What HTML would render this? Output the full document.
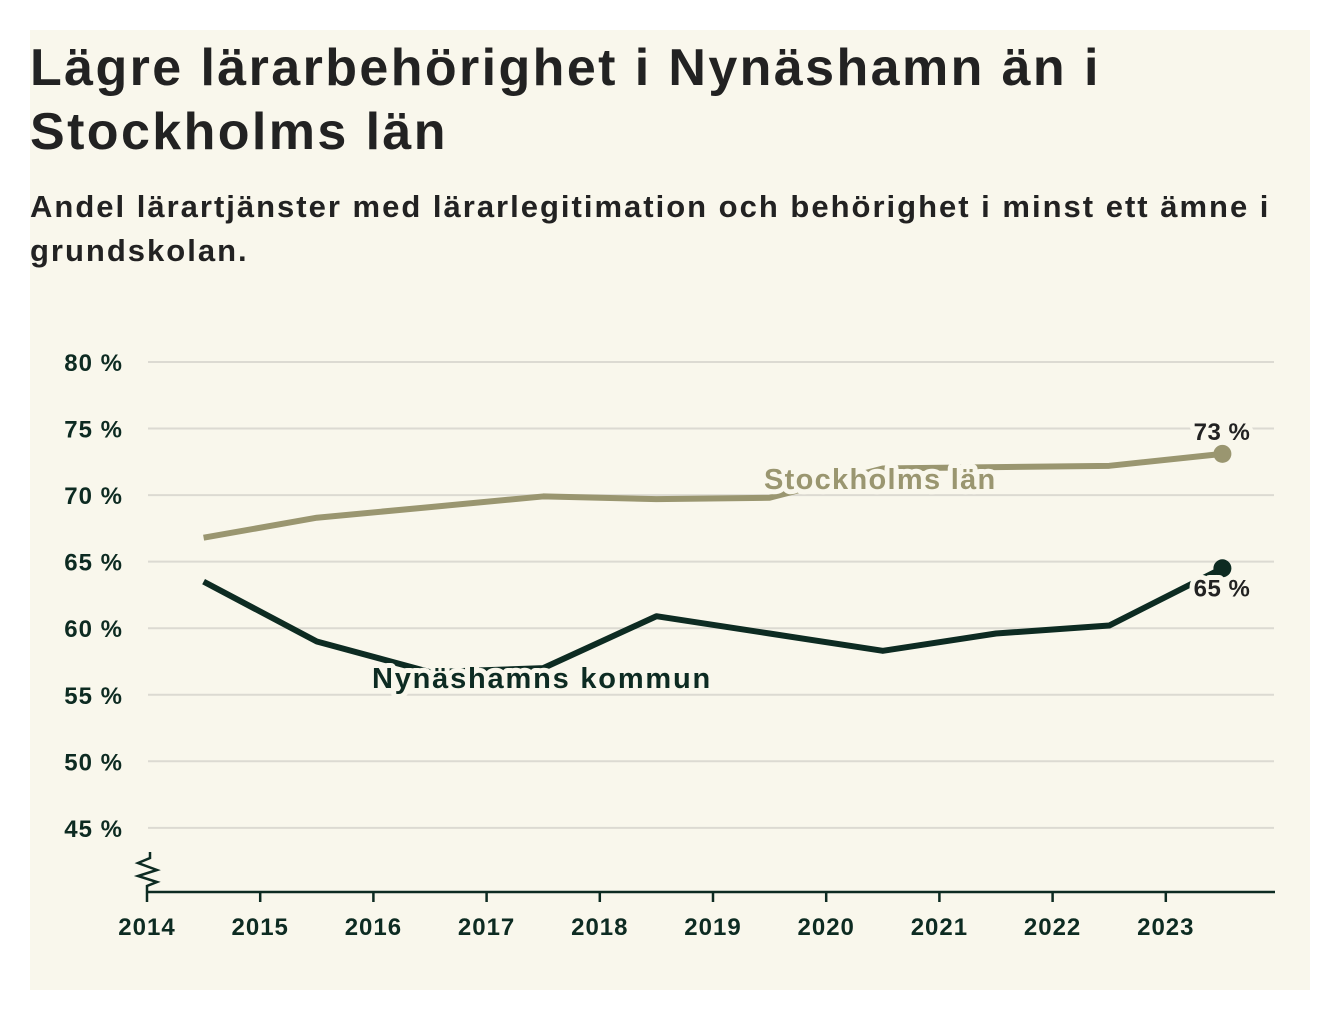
<!DOCTYPE html>
<html><head><meta charset="utf-8">
<style>
body{margin:0;background:#fff;width:1340px;height:1020px;overflow:hidden;font-family:"Liberation Sans",sans-serif}
#panel{position:absolute;left:30px;top:30px;width:1280px;height:960px;background:#f9f7ec}
h1{position:absolute;left:0;top:6px;margin:0;font-size:52px;line-height:64px;font-weight:bold;color:#222;letter-spacing:2.4px;width:1240px}
h2{position:absolute;left:0;top:155px;margin:0;font-size:31px;line-height:44px;font-weight:bold;color:#222;width:1270px;letter-spacing:2px}
svg{position:absolute;left:0;top:0}
</style></head><body>
<div id="panel">
<h1>Lägre lärarbehörighet i Nynäshamn än i Stockholms län</h1>
<h2>Andel lärartjänster med lärarlegitimation och behörighet i minst ett ämne i grundskolan.</h2>
</div>
<svg id="chart" width="1340" height="1020"></svg>
<script>
const years=[2014,2015,2016,2017,2018,2019,2020,2021,2022,2023];
const yTicks=[45,50,55,60,65,70,75,80];
const stockholm=[66.8,68.3,69.1,69.9,69.7,69.8,72.0,72.1,72.2,73.1];
const nynashamn=[63.5,59.0,56.7,57.0,60.9,59.6,58.3,59.6,60.2,64.5];
const svg=document.getElementById('chart');
const NS='http://www.w3.org/2000/svg';
const x=v=>147+(v-2014)*113.2;
const y=v=>362+(80-v)*13.31;
function mk(t,a,p){const e=document.createElementNS(NS,t);for(const k in a)e.setAttribute(k,a[k]);(p||svg).appendChild(e);return e;}
yTicks.forEach(t=>{
  const g=mk('line',{x1:148,x2:1274,y1:y(t),y2:y(t),stroke:'#dcdad2','stroke-width':2});
  
  
  const l=mk('text',{x:123,y:y(t)+9,'text-anchor':'end','font-size':24,'font-weight':'bold',fill:'#0d2b22','letter-spacing':1});
  l.textContent=t+' %';
  
  
});
const ax=mk('line',{x1:147,x2:1275,y1:892,y2:892,stroke:'#0d2b22','stroke-width':2.5});


const br=mk('polyline',{points:'150,852 150,858 138,863 157,870 138,876 157,882 147,886 147,892',fill:'none',stroke:'#0d2b22','stroke-width':2.5});


years.forEach(yr=>{
  const tk=mk('line',{x1:x(yr),x2:x(yr),y1:892,y2:902,stroke:'#0d2b22','stroke-width':2.5});
  
  
  const l=mk('text',{x:x(yr),y:935,'text-anchor':'middle','font-size':24,'font-weight':'bold',fill:'#0d2b22','letter-spacing':1});
  l.textContent=yr;
  
  
});
function series(vals,color,name){
  const pts=vals.map((v,i)=>x(years[i]+0.5)+','+y(v)).join(' ');
  const p=mk('polyline',{points:pts,fill:'none',stroke:color,'stroke-width':6,'stroke-linejoin':'round'});
  
  
  const n=vals.length-1;
  const c=mk('circle',{cx:x(years[n]+0.5),cy:y(vals[n]),r:9,fill:color});
  
  
}
series(stockholm,'#9a9670','stockholm');
series(nynashamn,'#0d2b22','nynashamn');
function label(txt,xx,yy,col,name,size,anchor,ls){
  const t=mk('text',{x:xx,y:yy,'font-size':size,'font-weight':'bold',fill:col,stroke:'#f9f7ec','stroke-width':10,'paint-order':'stroke','stroke-linejoin':'round','text-anchor':anchor||'start','letter-spacing':ls||0});
  t.textContent=txt;
  
  
}
label('Stockholms län',764,489,'#9a9670','stockholm-label',29,'start',1.3);
label('Nynäshamns kommun',372,688,'#0d2b22','nynashamn-label',29,'start',1.8);
const n=stockholm.length-1;
label(Math.round(stockholm[n])+' %',1222,y(stockholm[n])-14,'#222','stockholm-end-value',24,'middle',0.5);
label(Math.round(nynashamn[n])+' %',1222,y(nynashamn[n])+28,'#222','nynashamn-end-value',24,'middle',0.5);
</script>
</body></html>
